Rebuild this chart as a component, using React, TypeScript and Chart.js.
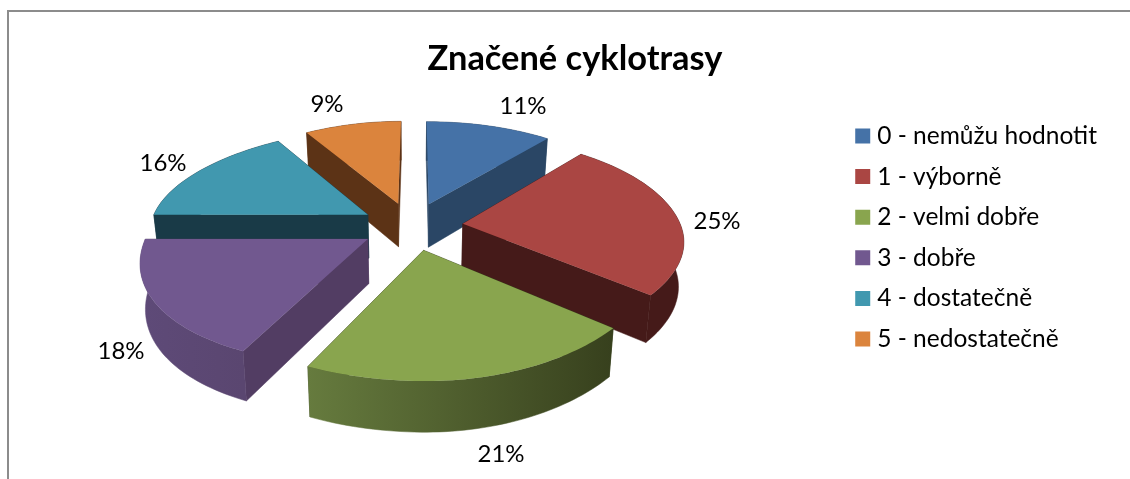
import React, { useEffect, useRef } from "react";
import { Chart, registerables } from "chart.js";

Chart.register(...registerables);

const categories = ["0 - nemůžu hodnotit", "1 - výborně", "2 - velmi dobře", "3 - dobře", "4 - dostatečně", "5 - nedostatečně"];
const percentValues = [11, 25, 21, 18, 16, 9];
const topColors = ["#4572A7", "#AA4643", "#89A54E", "#71588F", "#4198AF", "#DB843D"];
const wallColors = ["#2A4665", "#451A19", "#37401D", "#523D63", "#193A47", "#5C3316"];
const rimStart = ["#2A4665", "#451A19", "#667B3E", "#5E4A78", "#193A47", "#5C3316"];
const rimEnd = ["#2A4665", "#451A19", "#37401D", "#5A4670", "#193A47", "#5C3316"];
const paintOrder = [5, 0, 4, 1, 3, 2];
const labelCentres = [[523, 106], [717, 221], [501, 454], [121, 351], [163, 163], [327, 104]];

const FONT = "Lato, Carlito, 'Open Sans', sans-serif";
const CX = 412, CY = 226, AX = 218, BY = 101.8, PERSP = 0.157, SKEW = 10, EXPLODE = 0.235, DEPTH = 44, BOTTOM_X = 0.98;

type P = [number, number];

function project(X: number, Y: number, bottom: boolean): P {
  const den = 1 + PERSP * Y;
  const skew = X > 0 && Y > 0 ? 0 : SKEW * Y * Math.abs(Y) * Math.abs(X);
  let x = (AX * X) / den + skew;
  let y = (-BY * Y) / den;
  if (bottom) {
    x *= BOTTOM_X;
    y += DEPTH / Math.pow(den, 0.7);
  }
  return [CX + x, CY + y];
}

const pie3dPlugin = {
  id: "pie3d",
  beforeDatasetsDraw(chart: any) {
    const ctx: CanvasRenderingContext2D = chart.ctx;
    const arcs = chart.getDatasetMeta(0).data;
    const fillPoly = (pts: P[], fill: any, edge: boolean) => {
      ctx.beginPath();
      pts.forEach((p, k) => (k ? ctx.lineTo(p[0], p[1]) : ctx.moveTo(p[0], p[1])));
      ctx.closePath();
      ctx.fillStyle = fill;
      ctx.fill();
      if (edge) {
        ctx.strokeStyle = fill;
        ctx.lineWidth = 0.5;
        ctx.stroke();
      }
    };
    ctx.save();
    for (const i of paintOrder) {
      const { startAngle, endAngle } = arcs[i].getProps(["startAngle", "endAngle"], true);
      const mid = (startAngle + endAngle) / 2;
      const ox = EXPLODE * Math.cos(mid);
      const oy = -EXPLODE * Math.sin(mid);
      const steps = Math.max(8, Math.round((endAngle - startAngle) * 40));
      const ring: [number, number][] = [];
      for (let s = 0; s <= steps; s++) {
        const a = startAngle + ((endAngle - startAngle) * s) / steps;
        ring.push([ox + Math.cos(a), oy - Math.sin(a)]);
      }
      const topRing = ring.map((w) => project(w[0], w[1], false));
      const lowRing = ring.map((w) => project(w[0], w[1], true));
      const apexTop = project(ox, oy, false);
      const apexLow = project(ox, oy, true);
      const xs = topRing.map((p) => p[0]);
      const rimGrad = ctx.createLinearGradient(Math.min(...xs), 0, Math.max(...xs), 0);
      rimGrad.addColorStop(0, rimStart[i]);
      rimGrad.addColorStop(1, rimEnd[i]);

      const parts: { pts: P[]; fill: any }[] = [
        { pts: [apexTop, topRing[0], lowRing[0], apexLow], fill: wallColors[i] },
        { pts: [apexTop, topRing[steps], lowRing[steps], apexLow], fill: wallColors[i] },
        { pts: [...topRing, ...[...lowRing].reverse()], fill: rimGrad },
      ];
      const meanY = (pts: P[]) => pts.reduce((sum, p) => sum + p[1], 0) / pts.length;
      parts.sort((a, b) => meanY(a.pts) - meanY(b.pts));
      for (const part of parts) fillPoly(part.pts, part.fill, true);
      fillPoly([apexTop, ...topRing], topColors[i], false);
    }
    ctx.fillStyle = "#000000";
    ctx.font = `24px ${FONT}`;
    ctx.textAlign = "center";
    ctx.textBaseline = "middle";
    percentValues.forEach((v, i) => {
      ctx.fillText(`${v}%`, labelCentres[i][0], labelCentres[i][1]);
    });
    ctx.restore();
    return false;
  },
  beforeDraw(chart: any) {
    const ctx: CanvasRenderingContext2D = chart.ctx;
    ctx.save();
    ctx.strokeStyle = "#8C8C8C";
    ctx.lineWidth = 2;
    ctx.beginPath();
    ctx.moveTo(8, 479);
    ctx.lineTo(8, 11);
    ctx.lineTo(1130, 11);
    ctx.stroke();
    ctx.restore();
  },
};

export default function App() {
  const ref = useRef<HTMLCanvasElement>(null);
  useEffect(() => {
    const chart = new Chart(ref.current as HTMLCanvasElement, {
      type: "pie",
      data: {
        labels: categories,
        datasets: [{ data: percentValues, backgroundColor: topColors, borderWidth: 0, offset: 0 }],
      },
      plugins: [pie3dPlugin],
      options: {
        responsive: false,
        animation: false,
        layout: { padding: { top: 38, right: 23, bottom: 42, left: 43 } },
        plugins: {
          tooltip: { enabled: false },
          title: {
            display: true,
            text: "Značené cyklotrasy",
            color: "#000000",
            font: { family: FONT, size: 34.4, weight: "bold" },
            padding: { top: 0, bottom: 0 },
          },
          legend: {
            display: true,
            position: "right",
            labels: {
              color: "#000000",
              font: { family: FONT, size: 24.5 },
              boxWidth: 4.5,
              boxHeight: 15,
              usePointStyle: true,
              pointStyle: "rect",
              padding: 16.1,
            },
          },
        },
      },
    } as any);
    return () => chart.destroy();
  }, []);
  return (
    <div style={{ position: "absolute", left: 0, top: 0, width: 1130, height: 479, background: "#ffffff" }}>
      <canvas ref={ref} width={1130} height={479} style={{ display: "block" }} />
    </div>
  );
}
